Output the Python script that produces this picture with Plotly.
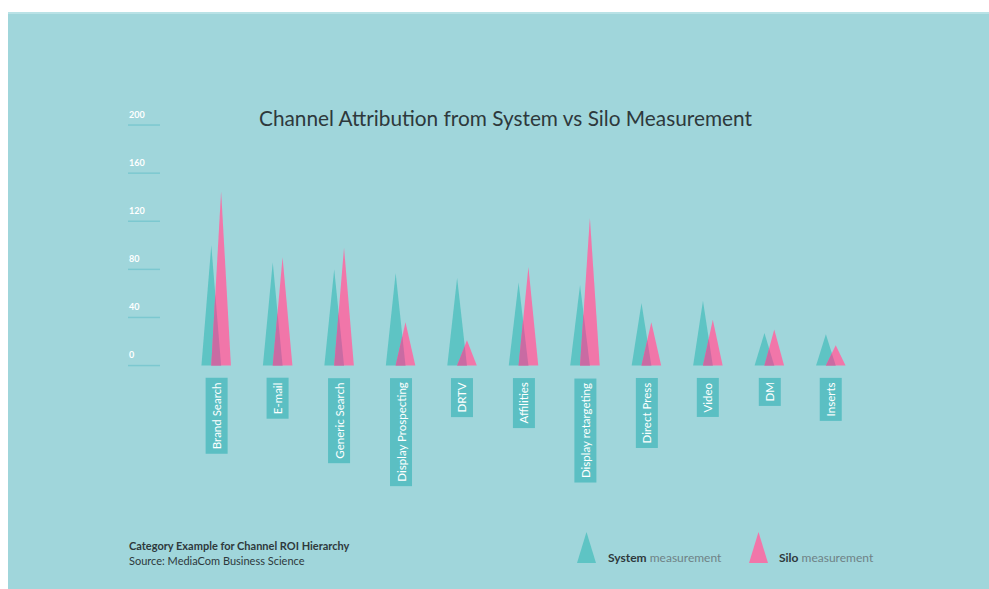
import plotly.graph_objects as go

# Channel data
channels = ["Brand Search", "E-mail", "Generic Search", "Display Prospecting", "DRTV",
            "Affilities", "Display retargeting", "Direct Press", "Video", "DM", "Inserts"]
system_vals = [100, 86, 80, 77, 73, 69, 67, 52, 54, 27, 26]
silo_vals = [145, 90, 98, 36, 21, 82, 123, 36, 38, 30, 17]
y_ticks = [0, 40, 80, 120, 160, 200]

BG = "#a0d6db"
TEAL = "#5ec4c4"
PINK = "#f176a9"
OVERLAP = "#c96ba3"
LABEL_BOX = "#5bbfc3"
DARK = "#2e393c"
FONT = "Lato"

W, H = 989, 589
L, R, T, B = 124, 66, 101, 209
PW, PH = W - L - R, H - T - B


def px(xp):
    return (xp - L) / PW


def py(yp):
    return (H - B - yp) / PH


OFF, HALF = 0.08, 0.16

fig = go.Figure()
for i, (vt, vp) in enumerate(zip(system_vals, silo_vals)):
    ct, cp = i - OFF, i + OFF
    fig.add_trace(go.Scatter(x=[ct - HALF, ct, ct + HALF, ct - HALF], y=[0, vt, 0, 0],
                             fill="toself", fillcolor=TEAL, mode="lines", line=dict(width=0),
                             hoverinfo="skip", showlegend=False))
    fig.add_trace(go.Scatter(x=[cp - HALF, cp, cp + HALF, cp - HALF], y=[0, vp, 0, 0],
                             fill="toself", fillcolor=PINK, mode="lines", line=dict(width=0),
                             hoverinfo="skip", showlegend=False))
    # shared region where the two triangles overlap
    yi = vt * vp / (vt + vp)
    xi = (cp - HALF) + (2 * OFF) * vt / (vt + vp)
    fig.add_trace(go.Scatter(x=[cp - HALF, xi, ct + HALF, cp - HALF], y=[0, yi, 0, 0],
                             fill="toself", fillcolor=OVERLAP, mode="lines", line=dict(width=0),
                             hoverinfo="skip", showlegend=False))

annotations = []
shapes = []

# teal panel with white strips at top and left
shapes.append(dict(type="rect", xref="paper", yref="paper", x0=px(0), x1=px(W), y0=py(12), y1=py(0),
                   fillcolor="white", line=dict(width=0), layer="below"))
shapes.append(dict(type="rect", xref="paper", yref="paper", x0=px(0), x1=px(8), y0=py(H), y1=py(0),
                   fillcolor="white", line=dict(width=0), layer="below"))
shapes.append(dict(type="line", xref="paper", yref="paper", x0=px(8), x1=px(W), y0=py(13), y1=py(13),
                   line=dict(color="#b9e2e6", width=2), layer="below"))

# y ticks: short underline plus label
for v in y_ticks:
    shapes.append(dict(type="line", xref="paper", yref="y", x0=px(128), x1=px(160), y0=v, y1=v,
                       line=dict(color="#7cc8d0", width=1.5)))
    annotations.append(dict(xref="paper", yref="y", x=px(127), y=v, xanchor="left", yanchor="middle",
                            yshift=11, text=f"<b>{v}</b>", showarrow=False,
                            font=dict(family=FONT, size=9, color="white")))

# category labels in boxes
for i, name in enumerate(channels):
    annotations.append(dict(xref="x", yref="y", x=i, y=0, xanchor="center", yanchor="top", yshift=-12,
                            text=name, textangle=-90, showarrow=False, bgcolor=LABEL_BOX, borderpad=4,
                            font=dict(family=FONT, size=11.5, color="white")))

# title
annotations.append(dict(xref="paper", yref="paper", x=px(505), y=py(117), xanchor="center", yanchor="middle",
                        text="Channel Attribution from System vs Silo Measurement", showarrow=False,
                        font=dict(family=FONT, size=20.8, color=DARK)))

# footer notes
annotations.append(dict(xref="paper", yref="paper", x=px(127), y=py(545), xanchor="left", yanchor="middle",
                        text="<b>Category Example for Channel ROI Hierarchy</b>", showarrow=False,
                        font=dict(family=FONT, size=11, color=DARK)))
annotations.append(dict(xref="paper", yref="paper", x=px(127), y=py(560), xanchor="left", yanchor="middle",
                        text="Source: MediaCom Business Science", showarrow=False,
                        font=dict(family=FONT, size=11, color=DARK)))

# legend glyphs
for x0, x1, col in [(577, 596, TEAL), (749, 768, PINK)]:
    shapes.append(dict(type="path", xref="paper", yref="paper",
                       path=f"M {px(x0)} {py(563)} L {px((x0 + x1) / 2)} {py(532)} L {px(x1)} {py(563)} Z",
                       fillcolor=col, line=dict(width=0)))
annotations.append(dict(xref="paper", yref="paper", x=px(606), y=py(557), xanchor="left", yanchor="middle",
                        text="<b>System</b> <span style='color:#6f8286'>measurement</span>", showarrow=False,
                        font=dict(family=FONT, size=12, color=DARK)))
annotations.append(dict(xref="paper", yref="paper", x=px(777), y=py(557), xanchor="left", yanchor="middle",
                        text="<b>Silo</b> <span style='color:#6f8286'>measurement</span>", showarrow=False,
                        font=dict(family=FONT, size=12, color=DARK)))

fig.update_layout(
    width=W, height=H, autosize=False,
    margin=dict(l=L, r=R, t=T, b=B, pad=0),
    paper_bgcolor=BG, plot_bgcolor="rgba(0,0,0,0)",
    xaxis=dict(range=[-1.5, 11.5], visible=False, fixedrange=True),
    yaxis=dict(range=[-12, 220], visible=False, fixedrange=True),
    showlegend=False,
    shapes=shapes,
    annotations=annotations,
)

fig.write_html("out.html")
